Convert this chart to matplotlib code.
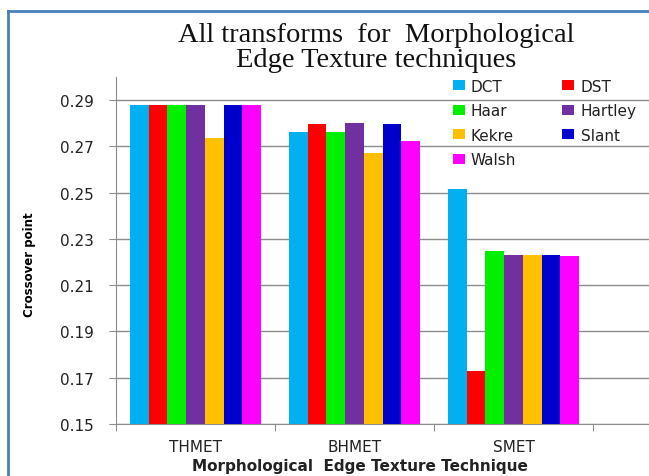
import matplotlib
matplotlib.use('Agg')
import matplotlib.pyplot as plt
from matplotlib.lines import Line2D
import numpy as np

# ---------- data ----------
tecnicas = ['THMET', 'BHMET', 'SMET']
transformadas = ['DCT', 'DST', 'Haar', 'Hartley', 'Kekre', 'Slant', 'Walsh']
DCT = [0.288, 0.2764, 0.2518]
DST = [0.288, 0.2797, 0.1731]
Haar = [0.288, 0.2764, 0.2250]
Hartley = [0.288, 0.2801, 0.2231]
Kekre = [0.2738, 0.2670, 0.2231]
Slant = [0.288, 0.2797, 0.2231]
Walsh = [0.288, 0.2723, 0.2226]
yticks = [0.15, 0.17, 0.19, 0.21, 0.23, 0.25, 0.27, 0.29]

series = [DCT, DST, Haar, Hartley, Kekre, Slant, Walsh]
colores = ['#00B0F0', '#FF0000', '#00F000', '#7030A0', '#FFC000', '#0000CC', '#FF00FF']

fig = plt.figure(figsize=(6.49, 4.77), dpi=100)
ax = fig.add_axes([116/649, 52/477, 1 - 116/649, (425-78)/477])

x = np.arange(len(tecnicas))
w = 0.1177
barras = []
for i, (vals, c, nombre) in enumerate(zip(series, colores, transformadas)):
    b = ax.bar(x + (i - 3)*w, np.array(vals) - 0.15, w, bottom=0.15, color=c,
               label=nombre, zorder=3)
    barras.append(b)

ax.set_ylim(0.15, 0.30)
ax.set_xlim(-0.5, (649-116)/159 - 0.5)
ax.set_yticks(yticks)
ax.set_yticklabels([f'{v:.2f}' for v in yticks], fontsize=11, color='#222222')
ax.yaxis.grid(True, color='#8c8c8c', lw=1, zorder=0)

# ticks between categories, labels at centres
ax.set_xticks(np.arange(-0.5, 3.0, 1.0))
ax.set_xticklabels([])
ax.set_xticks(x, minor=True)
ax.set_xticklabels(tecnicas, minor=True, fontsize=11, color='#222222')
ax.tick_params(axis='x', which='minor', length=0, pad=11)
ax.tick_params(axis='x', which='major', length=5, color='#8c8c8c')
ax.tick_params(axis='y', length=5, color='#8c8c8c', pad=11)

for s in ['top', 'right']:
    ax.spines[s].set_visible(False)
for s in ['left', 'bottom']:
    ax.spines[s].set_color('#8c8c8c')

fig.text(360/649, 1 - 467/477, 'Morphological  Edge Texture Technique',
         ha='center', va='center', fontsize=11, fontweight='bold', color='#222222')
fig.text(30/649, 1 - 265/477, 'Crossover point', rotation=90, ha='center',
         va='center', fontsize=8.5, fontweight='bold',
         family=['Liberation Sans Narrow', 'DejaVu Sans'])

fig.text(376/649, 1 - 48/477,
         'All transforms  for  Morphological\nEdge Texture techniques',
         ha='center', va='center', fontsize=20.5, family='Liberation Serif',
         linespacing=1.0, color='#111111')

# legend filled row by row like the original
orden = [0, 2, 4, 6, 1, 3, 5]
leg = ax.legend([barras[k] for k in orden], [transformadas[k] for k in orden],
                ncol=2, loc='upper left', bbox_to_anchor=(445/649, 1 - 72/477),
                bbox_transform=fig.transFigure, frameon=False, fontsize=11,
                handlelength=0.8, handleheight=0.6, handletextpad=0.4,
                columnspacing=3.0, labelspacing=0.62, borderpad=0)
for t in leg.get_texts():
    t.set_color('#222222')

# blue outer frame (left and top edges visible)
fig.add_artist(Line2D([8/649, 8/649], [0, 1 - 12/477], color='#4A7EBB', lw=2))
fig.add_artist(Line2D([8/649, 1], [1 - 12/477, 1 - 12/477], color='#4A7EBB', lw=2))

fig.savefig('out.png', dpi=100)
